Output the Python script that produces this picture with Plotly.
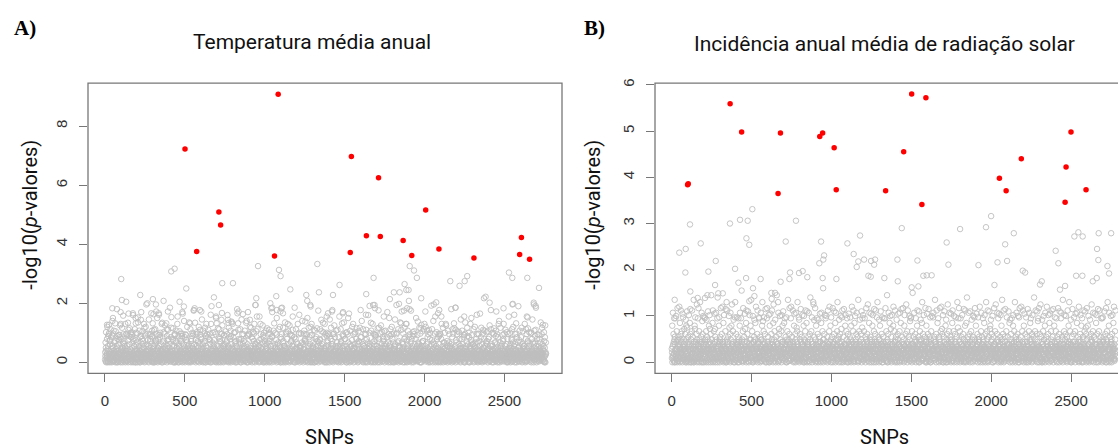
import plotly.graph_objects as go

# ---------------- data ----------------
# Low-level cloud of -log10(p) values, one character per SNP (in SNP order).
# Each character is a code; CODE_VALUES gives the -log10(p) level it stands for.
CODE_CHARS = "0123456789abcdefghijklmnopqrstuvwxyzABCDEFGHIJKLMNOPQRSTUVWXYZ"
CODE_VALUES = [
    0.00, 0.03, 0.06, 0.09, 0.12, 0.15, 0.18, 0.21, 0.24, 0.27,        # 0-9
    0.29, 0.34, 0.39, 0.44, 0.49,                                      # a-e
    0.72, 0.75, 0.89, 0.91, 0.93,                                      # f-j
    0.55, 0.61, 0.67, 0.79, 0.85,                                      # k-o
    0.95, 0.97, 1.30, 1.32, 1.34,                                      # p-t
    0.92, 0.97, 1.02, 1.07, 1.12, 1.17,                                # u-z
    0.95, 1.00, 1.05, 1.10, 1.15, 1.20, 1.25, 1.30, 1.35, 1.40,        # A-J
    1.45, 1.50, 1.55, 1.60, 1.65, 1.70, 1.75, 1.80, 1.85, 1.90,        # K-T
    1.95, 2.00, 2.05, 2.10, 2.15, 2.20,                                # U-Z
]

band_A = """
3b7m1ew0c5 8an2F6d0kh 1c4p9aB2f6 0gl5y3b7oa 4d0k2iJ8a1 6eq1x9c3mb 2a8s0fC5d4 7bk0R2h6ne 0c3l6au1g9 5jo8G4b0rc
1a5n7dz3e8 0bm6A2c9la 4f1k8eH0b3 9cp2v5a1ki 2d6t0gD7a4 3hl9E1b6qd 8a0o4cw2j7 5em3N0a8nf 7b2k1dy4c0 0gs5B9d3ma
6c0q3aI9b2 4dk1x7e0oc 0a8m5hP3d6 2bn4C8f1la 9e3r7bz0a5 1iq6F3c9kb 5a7l2dv8g1 8ck0K4a6pe 3f9n6bA2c7 7ao1x5h0sd
2b4k0eD6a9 0cl8y3g1mf 7a1p4dL5c0 5en2u9a7kb 1j6o8cB3d2 4al7H0b5tc 0d9m2fw6a3 9bq1G6e8ld 6a3s5cy0h8 3gk9D2a4nb
8e2l6aS1c4 1bo5z7d3ka 3c7n9gE0a6 6ak0A4i2pc 0f5m1bx8e3 2dr8M5a0lh 7a0k3eC4b9 4cn6v1f7ma 9h4q0dO5a1 5bl3J8c2oe
0a6p2cu7d5 7gm1F4b9ka 5d0l8aI2e1 3cs7y0a6nf 1b8k4hB3c9 8ep2Q5d1lb 4a3t6cA0g7 6bk9w2a8qc 2f1m7eF9a0 9al4D3j6od
3c9n1bK5a2 5dl0x6e2mb 1a4q7fz0c8 0hk3H9a5pc 6e2o5aD1b4 2bn8v4g0la 8a5r0dT3c6 7cm1B5a9ke 4g8l3bw7d1 1ap6L0c2sa
9b3k5aE2c0 4ao7y1d8nf 2e6m0cA9a3 8dq5G2b6kc 0a1l4iu5e7 6cl3C7a1mb 3f7p9bN4d2 1bk0z8e3oa 5a2n6dx0h9 7el2I6c5ra
1d5o3aB8b6 9cm2w0f4la 6a0k8eR1c5 3bs6D5a9nd 7g4m2cy6a0 0an9K3b7pe 4c8l1dA5f3 8ek4x1a2mc 2a9t7bJ0c8 5hl0u9d6qb
7a2p4cF9e1 2bk8z6a3od 0c5n9aw7b4 6fq1H4c0la 3e7l5bC2a8 9am3y7d5kc 5b1k0gM8a6 1cr6A3e9nb 8d6m2aG4i0 4ao7B0b1lf
5c8k1ax3d7 0el4E8a2mc 9a3q6bD0f1 7bn2v5c8ka 2d0o4hP6a9 4ck9x1b3sa 6a7l8eB5c2 3gp0L7a4ld 1b5m3cy9a8 8ak5F2e0ob
0b4n7dA1a5 6cm3z0f8ka 3a9k2cI5e0 1dq7w4a6nb 8e5r1aC9b3 5bl0G8c2pd 2a1m6fu4c7 9hk4D6a1la 7c6o0bS3d9 0an8y5e7mc
4d1l9aH7b2 2ap6B3c0ke 7c5k3ev1a8 3bm9J2a5ld 0a8q7dx4g6 6fn1A9b3ma 9b2p5cL0a4 1ck7z6e8oa 5a4l0iF2c1 8dr3u0a9kb
6e9m4bD3a0 0bl5x8d1na 2a7o1cE6f9 9ck4Q0a7mc 4b3n6gy2e5 1dk8C5a4lb 7a6t2bw9c3 5eo0H1d6pa 3c0k8aB7h2 0gm6v4b5kd
9a5p0cK4d8 3bn7z2e9la 1f2l6aA0b7 8aq2G7c3ob 5c9k3dx5a1 2em1D8a6kc 0b4o7bM1e3 6cl9y3f0ma 4a8s1eu5c6 7hk4I6a2nd
2c3n5aB9b0 8ak0w4d6pc 6d1m9bO7a2 0bl3x5a1ka 7a6k2gF4c9 4cr8A0e3ld 1e9q4aw8b5 9bn6E2a7md 3a0l7cC1f4 5dm2z9b6oa
8b7o3dJ2a6 1cl5y0a8kb 4a3k6ev9c0 6gp1D4b2na 0e8m5aN7d3 3ak7B9c5le 9c2t0bx1a7 2bm4H6d0qc 7a5l8fA3b1 0io9u2a4kd
3d6k9aE0c4 7bn1z5e3ma 0a9q2cG8b6 5cl8w1a6oe 2f4n7bC5a0 8ek3x7d9la 6a1o4dP2c8 4bm0A3a5kc 1c8l6hy0e3 9ap5F8b1nd
5a0m2cv6d9 0dk4K9a2lb 8b5p1aB7c3 2am6y3f0ka 6c3k9eI4a1 1bs7D2c8md 4e7l0av5b6 7cn3z0a4oa 9a2r5bH1d0 3gl8x6e5kc
1c4o7aA3b8 6bm2Q7d0na 3a8k4hw1c5 0ep9C5a3lb 7d2n6cL8a4 5ak1u6b2mc 2b9l3dz7e0 8cq5E0a6kd 0a6m9bC4f2 4fk7y3c9ra
6d3k1aF5c7 9al4x2e7ob 2c0p8bD6a3 7bn0B4a1kc 4a5l2gy9d6 0dm6J8b4la 8e7q5aM0c1 3ck2w7a5nd 5b1o0eA8a9 1hl9v1c3pb
0a9n4cH2b5 5bk8z0d6ma 7d4m3aB1e8 1ar3G5c2lc 9f0k7bx4a2 6cm1A9e8ka 3a8l6cR3d0 2eo7y4a1qb 8c5s2dE7a4 4bk0D3g6ma
7b1p5aC8c3 3cl6w2a9nd 1a4k0eK5b7 8dn4x7b3la 5e6o9cu1a0 0aq2I8d5kb 6c3m4bz7h9 9bl7B1a0oc 2a0k6dH4e5 7gm3u5c8la
4a7l2dy0b6 1bk9F6e4ma 9c2n8aA3d1 5dm0v2a7pc 3f8k1cO6a2 8ao5z4b1ld 0b5q3eD9c6 6en1x8a2kb 2a9m7bw5f3 9cl4C0d7na
5e2o6aG1c8 2ak7y9b6lc 8b0k4dB5a3 0cp3E7a9md 6a3m1hx2e7 4bl8A0c4oa 1d6r9aJ7b0 7cm2z3e6ka 3a1l5cu8d4 8fn6H1a3qb
9c5k3bD7a2 6al0w5d1nb 0a8p2cM4e9 3bk5B6a0lc 7e1n8gy3a5 1dm9F2b7ka 4a6l0dA5c3 8cs4v0a9ob 2b3m7eT1a6 5gk1x8c4md
3a4o8cz9b1 0bl6C3e5ka 6d9k5aH2c0 9an1y6b8pd 1c2m4fE7a8 5ek3w9a1lb 8a7q6bB0d5 2cn8K5c7ma 7b0l3ax2e9 4hm9D4a6kc
0d8n2bA5a7 7ak4u1d3nc 2c6m9eI8b4 6bp5z7a2ld 4a3k1cw6f0 1eo7G0b9ma
"""

band_B = """
a37n0b5x2c 4l1d6A0e8k c09p4a6B3d 2m7a0ez5b1 e48k1c2F6a 0o3b9e4y7l d16m7a0C5b 3q5c2ea9f4 b72l8d0u1a 6n0e3gD4c2
1a8k5d0w3b 9c2o7aE4l0 5e0b3m6y1a 7k4a9c0I2d 0b6n1f8v3c 2d9a5l7G0e 8c1p4b3z6a 4m0e2d9H5b a56c1k0x8d 3h7l0a5B9c
6b0q2a8A4e 1d7c5m0u9a 3k8b1e6D2c 0a4n9d3w7f 5c2l0a8K1b 9e3b6o4y0a 2a9m7c1C5d 7f0k3b6x2e 4d5a8p0J3b 8a1c2n7v6d
0e6k4b2z9a 3a1l8c7F5d 7c4o0a3w1b 2b8d6m5E0a 9a0r1e4y7c 5d3k2b8B6a 1g7a9l0x4e 6a5n3c1G8b 4c2m7d6u0a 8b9a0q5H2c
2a5l1d7v3c 7c0k9b4A6e 0d8a3n2x5b 4b6p8a1M9d 8e1c0m6z3a 1a9k5d7C2f 5c3b2o0y8a 9d7l4a5D1b 3a0c6s9w4e 6b4n1e3I7a
9c3m5a0B2d 0a7d1k8u6b 6e2o4c9F3a 1b5a7l2y0c 7d8c3q6A4a 3a4k0b1x9e 5b1e8n5H7c 8h6a2m4v1d 2c9l7a0E5b 4a0b9p3z8c
5d2k8a6w0b 8b0n3c5C1a 1a6l9e2y7d 3c4a0o8G6b 7e9m1b3u2a 0a3d5k9K4c 4b7c6r1x0a 9f1l2a7B5e 6a8b4m0w3d 2c5n7d6D9a
3a9o1c4A7b 7c2k6a0v5e 0b4m8d9I1a 5e1a3l7z6c 1d6c9p2F8a 8a7k4b5y3d 4c0b1n8C2a 6a5l0e3x9b 2g8d7m1H4c 9b3a2q6u0a
6e1l3a8E5d 2a4k9c6w1b 8c7a0n3B2e 0b5d4m1y6a 4a3o7b0D9c 7d9c1k5x4a 1b0l6e2J8a 5a8m3d7v0c 9c6b2r4G3a 3i2k8a9z1e
0c4n6b1A3a 4a8l2d0u7c 7b3k5a9C1d 2d0a8o6x4b 5a9m1c3N0e 9e6c7l2w8a 3a1p4b5B6d 8b5k0a7y2c 1c2a9m8F5b 6d7n3e0v4a
4b9k2a5z0c 1d3c8l6D7a 9a6o0b4x3e 5c1b7m2H9a 2e8a3k0u6d 7a4l9c1B5b 0f5d6q8y2a 3b0k4a7E1c 8a2c5n9w6b 6c7m1e3A0a
7a3l0d9C4b 2c6k5a1v8e 5b0n7c3F6a 9d8a2m4y1c 0a1o6b8B5d 4e5c9l3x7a 8c2k1a0I9b 1a7m4d6u3c 3b9l8e2D0a 6g4p7a5w2d
1c5m8a2A6b 5a0k3e9z4c 9d2l4b7G1a 3b7a6o0x8e 6a4k9c5C2b 0e8d1n3w7a 8b3c0m4E6d 2a6l5a9y0c 4d1q2b8H3a 7c9k6e0u5b
3e7n1a4D9c 8a2l6c0v3b 0b9k5d2A7a 6c3a4p8z1d 2a5m7b1K0e 5d0b9l6x4a 9a6o3c8B2b 1f4k0a5w7c 7b8c2n3F9a 4a1m6d7y0e
8d2k5b9u1a 0a6l3e7C5c 4c8a1m0x6b 7b5o2a4E3d 1a3k8c6z9a 9e0c7n1w2b 5b7l4a3G8c 2a9m0d5y4a 6c4k9b2B1e 3h1a8p6v7c
5a0m4c2L8b 9c7k1a6x3d 2b3l8e5A0a 4d6a9n3y7c 8a1k2b0D5e 0c5m7d4u9a 6e9b3o1H2c 3a2l5c8w6b 7b4k6a9z0d 1d8n0e7C3a
2c6l9a1E4d 6a1k7b5v0c 0e4m2c8B9a 8b9a5q3x1e 3a7k6d2I8b 5d2c0l9y4a 9b5o8a7A6c 1a0k3e4z2d 4c3m1b6F7a 7f8l5a0w3b
0b3k7d6D1a 4a9n2c0u5e 7c0l4a3G8b 2d5a1m9x6c 6a8k5e7C0d 9e1b8o2y3a 1b6m3a0B4c 5a4l9d6v8b 8c7k0b1H5a 3g2p6a4z9e
6d8m0a3A2c 1a4k5c9w7b 9b2l7e1E0a 4c6a3n8y5d 0a1o9b4J6c 7e5c2k6x1a 2a9l8d0D3b 8b3m4a5u9e 5c0k1c7B8a 3a7q2e9z4d
9a1n6b4C7c 3c8l0a2v9d 5e4k3d8F1a 0b7a9m6x2c 7a2k5c0A8e 2d9b1o3w4a 4b0l7a6H5c 6a6m8e1y0b 1c5k2b9D3a 8f3n4a7u6d
4e5l2a0B9b 7a0k8c3z1c 1c7m5b9G4a 8d3a4l2x7e 3a6p0d1C5b 6b8c9k7w2a 0a2n1e4I8d 9c4l6a3y0b 2b1k7d5E6a 5a9m3b8v4c
1a7k4c6D3a 5c2o9a0u8e 8b6l1d5A2c 3a0a7n4w9b 9d4m2b8H1a 0c5k3e6x7d 6a8l5a2B0c 2e3q0c9z5a 7b9k8a1F4b 4a1m6d3y6c
8c0n3a7C5d 2a6l1b4v0a 6d3k9c2E7b 0b8a5m1x3e 4a2o7d6A9a 9e7c0l3w1b 3b4k2a8J6c 7a5m6e9y2a 1c9l4b0D8d 5h6p8a5z0b
3b4l8a1G6a 9a3k0d7u2c 0c1m6b5B4e 6e9a2n0x8a 2a7k4c3F1b 7d6b5l8w9a 5a0o9a4C3c 1c8m1e2y7d 8b2k7b6E0a 4a5n3d9v5b
7a2m5c9A1b 0d5k4a8z6e 4b9l0c3D2a 9c1a8p7x5b 1a4k2e0I9c 6a3c7m5w8a 2e7l6b1B3d 5b0k9a4y1c 8c6n2d7H4a 3a8m1c6u0b
0c9k7a2E5d 4a1l3b6v9a 8d5m0c4C7b 2b2a6o9x3c 6a7k1d8F0a 1e4b8l2w6d 9b3n5a0A1c 3a0k4e7y8b 5c8m9b3D2a 7g6l0a1z4e
5b6n2c8B3a 1c0k6a5u2d 3a8l9e1G4b 7d4a1m3x9a 0a5k8b7C6c 4e2c3o0w5a 8c9l4a6E0b 6a1m7d2y3c 2b7k5c9A8a 9a3p0e4v1d
2d3k1a9D7c 6a7l4b0z2e 0c4m8d5H9a 5b1a2n6x0b 9a6k3c1B5d 3e0c7l4w8a 7b5o9a2F3c 1a2m6e8y4b
"""

# Upper grey (non-significant) points: (SNP index, -log10 p)
gray_upper_A = [
    (102, 2.82), (415, 3.08), (436, 3.17), (509, 2.50), (221, 2.28), (106, 2.11), (133, 2.05),
    (46, 1.83), (265, 2.00), (300, 2.14), (367, 2.08), (467, 2.05), (98, 1.70), (175, 1.66),
    (290, 1.66), (321, 1.72), (338, 1.61), (50, 1.50), (206, 1.52), (484, 1.70), (561, 1.83),
    (557, 1.77), (603, 1.72), (682, 2.20), (713, 1.94), (734, 2.68), (801, 2.68), (732, 1.67),
    (770, 1.44), (791, 1.38), (836, 1.72), (895, 1.70), (947, 2.17), (943, 1.94), (958, 3.26),
    (1035, 2.00), (1047, 1.85), (1072, 2.24), (1089, 3.13), (1099, 2.92), (1103, 1.83), (1114, 1.66),
    (1160, 2.47), (1260, 2.28), (1266, 2.08), (1285, 1.94), (1329, 3.33), (1339, 2.37), (1427, 2.28),
    (1468, 2.62), (1396, 1.66), (1423, 1.77), (1490, 1.70), (1635, 2.31), (1681, 2.86), (1656, 1.91),
    (1687, 1.94), (1712, 1.76), (1783, 2.14), (1808, 2.37), (1844, 2.37), (1875, 2.65), (1886, 2.45),
    (1900, 2.45), (1907, 3.26), (1934, 3.11), (1952, 2.86), (1840, 1.98), (1902, 2.08), (1906, 1.80),
    (1871, 1.75), (1979, 2.17), (2005, 1.72), (2042, 1.92), (2073, 2.03), (2084, 1.66), (2105, 1.55),
    (2161, 2.75), (2194, 1.85), (2219, 2.59), (2251, 2.75), (2267, 2.92), (2372, 2.17), (2382, 2.22),
    (2407, 2.02), (2528, 3.04), (2549, 2.86), (2552, 1.98), (2643, 2.86), (2716, 2.52), (2683, 2.02),
    (2695, 1.91), (2645, 1.52),
    (114, 1.58), (148, 1.65), (192, 1.50), (225, 1.44), (13, 1.27), (25, 1.27), (304, 1.63),
    (337, 1.66), (259, 1.96), (319, 1.96), (394, 1.72), (416, 1.53), (494, 1.89), (594, 1.77),
    (662, 1.61), (695, 1.55), (729, 1.44), (773, 1.33), (829, 1.66), (863, 1.63), (941, 1.94),
    (907, 1.44), (951, 1.55), (1041, 1.83), (1075, 1.77), (1108, 1.85), (1098, 1.72), (1175, 1.55),
    (1216, 1.61), (1254, 1.38), (1287, 1.89), (1354, 1.44), (1388, 1.55), (1421, 1.72), (1488, 1.66),
    (1522, 1.50), (1600, 1.77), (1633, 1.61), (1678, 1.94), (1690, 1.83), (1745, 1.55), (1779, 1.50),
    (1824, 1.94), (1857, 1.72), (1891, 1.83), (1958, 1.38), (1980, 1.27), (2058, 1.96), (2092, 1.77),
    (2193, 1.85), (2248, 1.55), (2293, 1.50), (2327, 1.61), (2415, 1.77), (2449, 1.72), (2494, 1.83),
    (2550, 1.96), (2561, 1.61), (2640, 1.55), (2684, 1.96), (2697, 1.85), (2740, 1.27),
]

gray_upper_B = [
    (115, 2.98), (48, 2.37), (88, 2.45), (86, 1.94), (182, 2.57), (276, 2.19), (230, 1.96),
    (365, 3.00), (428, 3.08), (476, 3.06), (505, 3.31), (468, 2.68), (486, 2.54), (397, 2.02),
    (418, 1.72), (466, 1.82), (557, 1.80), (272, 1.67), (117, 1.53), (19, 1.35), (163, 1.39),
    (209, 1.39), (224, 1.45), (292, 1.49), (320, 1.49), (509, 1.60), (518, 1.43), (624, 1.50),
    (647, 1.50), (626, 1.37), (682, 1.74), (714, 2.61), (741, 1.94), (737, 1.80), (778, 3.06),
    (797, 1.93), (820, 1.97), (849, 1.84), (935, 2.61), (954, 2.31), (949, 2.22), (924, 2.14),
    (945, 1.82), (1031, 1.80), (1100, 2.57), (1139, 2.34), (1179, 2.74), (1168, 2.18), (1158, 2.06),
    (1204, 2.22), (1231, 1.87), (1246, 1.85), (1248, 2.19), (1273, 2.22), (1267, 2.11), (1331, 1.82),
    (1415, 1.75), (1413, 2.22), (1440, 2.90), (1538, 2.20), (1502, 1.62), (1544, 1.64), (1575, 1.87),
    (1596, 1.88), (1627, 1.88), (1721, 2.59), (1732, 2.11), (1805, 2.88), (1920, 2.10), (1967, 2.92),
    (1999, 3.16), (2020, 1.67), (2087, 2.55), (2039, 2.16), (2099, 2.19), (2141, 2.79), (2197, 1.98),
    (2212, 1.94), (2316, 1.75), (2305, 1.68), (2403, 2.41), (2420, 2.14), (2430, 1.57), (2462, 1.65),
    (2520, 2.72), (2545, 2.81), (2572, 2.72), (2531, 1.87), (2570, 1.87), (2635, 1.75), (2660, 1.82),
    (2662, 2.45), (2670, 2.21), (2672, 2.79), (2750, 2.79), (2727, 2.08), (2737, 1.92),
]

# Significant SNPs (red)
red_A = [
    (501, 7.23), (574, 3.75), (713, 5.09), (724, 4.65), (1061, 3.60), (1084, 9.08), (1535, 3.72),
    (1542, 6.97), (1636, 4.29), (1712, 6.25), (1723, 4.26), (1866, 4.13), (1920, 3.62), (2007, 5.16),
    (2090, 3.84), (2309, 3.53), (2595, 3.65), (2606, 4.23), (2657, 3.49),
]
red_B = [
    (100, 3.84), (104, 3.86), (366, 5.59), (438, 4.98), (666, 3.65), (681, 4.96), (927, 4.88),
    (945, 4.96), (1017, 4.64), (1030, 3.73), (1339, 3.71), (1452, 4.55), (1502, 5.80), (1566, 3.41),
    (1591, 5.72), (2051, 3.98), (2093, 3.71), (2188, 4.40), (2462, 3.46), (2468, 4.22), (2499, 4.98),
    (2593, 3.73),
]

x_ticks = [0, 500, 1000, 1500, 2000, 2500]
y_ticks_A = [0, 2, 4, 6, 8]
y_ticks_B = [0, 1, 2, 3, 4, 5, 6]

title_A = "Temperatura média anual"
title_B = "Incidência anual média de radiação solar"
x_title = "SNPs"
y_title = "-log10(<i>p</i>-valores)"


# ---------------- helpers ----------------
CODEBOOK = dict(zip(CODE_CHARS, CODE_VALUES))


def decode(s):
    return [CODEBOOK[c] for c in "".join(s.split())]


def unzip(pairs):
    return [p[0] for p in pairs], [p[1] for p in pairs]


W, H = 1118, 448
GRAY = "#bebebe"
RED = "#ff0000"
AXIS = "#777777"
TICKFONT = dict(family="Liberation Sans, Arial, sans-serif", size=15, color="#333333")
LABFONT = dict(family="Roboto, Open Sans, sans-serif", size=20, color="#111111")


def gray_marker():
    return dict(symbol="circle-open", size=5.5, color=GRAY, line=dict(width=0.9, color=GRAY))


def red_marker():
    return dict(symbol="circle", size=5.5, color=RED, line=dict(width=0))


fig = go.Figure()

for band, upper, red, xa, ya in [
    (band_A, gray_upper_A, red_A, "x", "y"),
    (band_B, gray_upper_B, red_B, "x2", "y2"),
]:
    yb = decode(band)
    xb = list(range(1, len(yb) + 1))
    fig.add_trace(go.Scatter(x=xb, y=yb, mode="markers", marker=gray_marker(),
                             xaxis=xa, yaxis=ya, showlegend=False, hoverinfo="skip"))
    ux, uy = unzip(upper)
    fig.add_trace(go.Scatter(x=ux, y=uy, mode="markers", marker=gray_marker(),
                             xaxis=xa, yaxis=ya, showlegend=False, hoverinfo="skip"))
    rx, ry = unzip(red)
    fig.add_trace(go.Scatter(x=rx, y=ry, mode="markers", marker=red_marker(),
                             xaxis=xa, yaxis=ya, showlegend=False))

# panel geometry (pixels)
A_left, A_right = 88, 562
B_left = 655
P_top, P_bottom = 79, 372.5
ydom = [1 - P_bottom / H, 1 - P_top / H]

common_x = dict(tickvals=x_ticks, ticks="outside", ticklen=8, tickwidth=1, tickcolor=AXIS,
                showline=False, showgrid=False, zeroline=False, tickfont=TICKFONT,
                ticklabelstandoff=6)
common_y = dict(ticks="outside", ticklen=8, tickwidth=1, tickcolor=AXIS, tickangle=-90,
                showline=False, showgrid=False, zeroline=False, tickfont=TICKFONT,
                ticklabelstandoff=6)

fig.update_layout(
    width=W, height=H,
    margin=dict(l=0, r=0, t=0, b=0),
    paper_bgcolor="white", plot_bgcolor="white",
    xaxis=dict(domain=[A_left / W, A_right / W], range=[-106, 2860], anchor="y", **common_x),
    yaxis=dict(domain=ydom, range=[-0.375, 9.46], tickvals=y_ticks_A, anchor="x", **common_y),
    xaxis2=dict(domain=[B_left / W, 1.0], range=[-104, 2793], anchor="y2", **common_x),
    yaxis2=dict(domain=ydom, range=[-0.24, 6.036], tickvals=y_ticks_B, anchor="x2", **common_y),
    shapes=[
        dict(type="rect", xref="x domain", yref="y domain", x0=0, x1=1, y0=0, y1=1,
             line=dict(color=AXIS, width=1.3), layer="above"),
        dict(type="rect", xref="x2 domain", yref="y2 domain", x0=0, x1=1.1, y0=0, y1=1,
             line=dict(color=AXIS, width=1.3), layer="above"),
    ],
)


def ann(text, x, y, font, angle=0):
    fig.add_annotation(text=text, x=x / W, y=1 - y / H, xref="paper", yref="paper",
                       showarrow=False, xanchor="center", yanchor="middle",
                       textangle=angle, font=font)


title_font = dict(family="Roboto, Open Sans, sans-serif", size=21, color="#111111")
ann(title_A, 312, 37, title_font)
ann(title_B, 884, 39, title_font)
panel_font = dict(family="Liberation Serif, Times New Roman, serif", size=21, color="#000000")
ann("<b>A)</b>", 25, 23, panel_font)
ann("<b>B)</b>", 594, 23, panel_font)
ann(x_title, 329, 437, LABFONT)
ann(x_title, 884, 437, LABFONT)
ann(y_title, 30, 212, LABFONT, angle=-90)
ann(y_title, 593, 212, LABFONT, angle=-90)

fig.write_html("out.html")
